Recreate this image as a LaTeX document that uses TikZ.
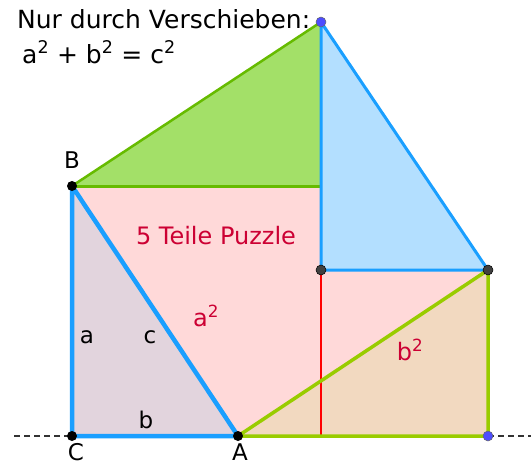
\documentclass[tikz,border=0pt]{standalone}
\usepackage{fontspec}
\setmainfont{DejaVu Sans}
\definecolor{gfill}{HTML}{A3E068}
\definecolor{gline}{HTML}{66BB00}
\definecolor{bfill}{HTML}{B3DFFF}
\definecolor{bline}{HTML}{1A9FFF}
\definecolor{pfill}{HTML}{FFD9D9}
\definecolor{mfill}{HTML}{E2D4DD}
\definecolor{ofill}{HTML}{F2D9C0}
\definecolor{yline}{HTML}{99CC00}
\definecolor{rtext}{HTML}{CC0033}
\definecolor{dotblue}{HTML}{4D4DFF}
\tikzset{
  bdot/.style={circle,fill=black,inner sep=0pt,minimum size=10pt},
  gdot/.style={circle,fill=black!75,draw=black,line width=0.5pt,inner sep=0pt,minimum size=10pt},
  udot/.style={circle,fill=dotblue,draw=black!60,line width=0.5pt,inner sep=0pt,minimum size=10pt},
  lbl/.style={font=\fontsize{23}{25}\selectfont,text=black,inner sep=0pt},
  rlbl/.style={font=\fontsize{24}{28}\selectfont,text=rtext,inner sep=0pt},
  basedash/.style={dash pattern=on 6pt off 4pt,line width=1.5pt,black!80},
}
\begin{document}
\begin{tikzpicture}[x=1pt,y=-1pt]
\useasboundingbox (0,0) rectangle (531,466);
\coordinate (C) at (72,436);
\coordinate (A) at (238,436);
\coordinate (B) at (72,186);
\coordinate (T) at (321,22);
\coordinate (M) at (321,186);
\coordinate (P) at (321,270);
\coordinate (Q) at (488,270);
\coordinate (R) at (488,436);
\coordinate (S) at (321,436);
\coordinate (L0) at (14,436);
\coordinate (R0) at (531,436);
% fills
\fill[pfill] (B) -- (M) -- (P) -- (Q) -- (A) -- cycle;
\fill[mfill] (C) -- (B) -- (A) -- cycle;
\fill[gfill] (B) -- (T) -- (M) -- cycle;
\fill[bfill] (T) -- (Q) -- (P) -- cycle;
\fill[ofill] (A) -- (Q) -- (R) -- cycle;
% dashed base line
\draw[basedash] (L0) -- (C);
\draw[basedash] (R) -- (R0);
% red line
\draw[red,line width=2pt] (P) -- (S);
% green triangle
\draw[gline,line width=2.5pt] (B) -- (T);
\draw[gline,line width=3pt] (B) -- (M);
% blue triangle
\draw[bline,line width=3pt,line join=round] (T) -- (Q) -- (P) -- cycle;
% yellow-green triangle
\draw[yline,line width=3.5pt,line join=round] (A) -- (Q) -- (R) -- cycle;
% triangle ABC
\draw[bline,line width=4.5pt,line join=round] (C) -- (B) -- (A) -- cycle;
% dots
\node[bdot] (dC) at (C) {};
\node[bdot] (dA) at (A) {};
\node[bdot] (dB) at (B) {};
\node[gdot] (dP) at (P) {};
\node[gdot] (dQ) at (Q) {};
\node[udot] (dT) at (T) {};
\node[udot] (dR) at (R) {};
% texts
\node[font=\fontsize{25}{28}\selectfont,anchor=base west,inner sep=0pt] (t1) at (17,28) {Nur durch Verschieben:};
\node[font=\fontsize{25}{28}\selectfont,anchor=base west,inner sep=0pt] (t2) at (22,63) {a\textsuperscript{2} + b\textsuperscript{2} = c\textsuperscript{2}};
\node[lbl,anchor=base] (lB) at (72,168) {B};
\node[lbl,anchor=base] (lC) at (76,460) {C};
\node[lbl,anchor=base] (lA) at (240,460) {A};
\node[lbl,anchor=base] (la) at (87,343) {a};
\node[lbl,anchor=base] (lc) at (150,343) {c};
\node[lbl,anchor=base] (lb) at (146,428) {b};
\node[rlbl] (puz) at (216,236) {5 Teile Puzzle};
\node[rlbl] (a2) at (206,316) {a\textsuperscript{2}};
\node[rlbl] (b2) at (410,350) {b\textsuperscript{2}};
\end{tikzpicture}
\end{document}
